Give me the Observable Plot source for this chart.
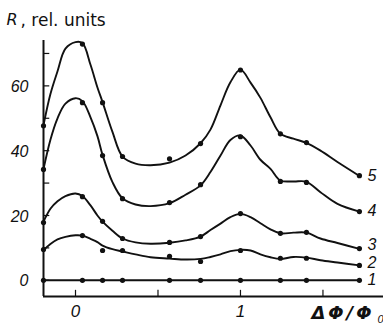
<!DOCTYPE html>
<html><head><meta charset="utf-8">
<script src="https://cdn.jsdelivr.net/npm/d3@7"></script>
<script src="https://cdn.jsdelivr.net/npm/@observablehq/plot@0.6"></script>
<style>body{margin:0;background:#fff} svg{display:block}</style>
</head><body><div id="chart"></div>
<script>
// Measured points: ΔΦ/Φ0 positions and R values (rel. units) for curves 1–5
const xVals = [-0.194, 0.042, 0.164, 0.285, 0.570, 0.758, 1.0, 1.242, 1.40, 1.721];
const curveNames = ["1", "2", "3", "4", "5"];
const s1 = [0, 0, 0, 0, 0, 0, 0, 0, 0, 0];
const s2 = [9.5, 13.8, 9.2, 9.2, 7.4, 5.8, 9.2, 6.8, 6.8, 4.6];
const s3 = [17.8, 25.8, 18.2, 12.9, 11.7, 13.5, 20.6, 14.5, 14.8, 9.8];
const s4 = [34.2, 54.8, 38.5, 25.2, 24.0, 29.5, 44.3, 30.5, 30.2, 21.2];
const s5 = [47.7, 72.9, 54.8, 38.2, 37.5, 42.2, 64.9, 45.2, 42.5, 32.3];

// Hand-drawn fitted curves at these ΔΦ/Φ0 positions
const fitX = [-0.194, -0.152, -0.109, -0.061, 0, 0.042, 0.091, 0.133, 0.164, 0.224, 0.285, 0.364, 0.455,
  0.570, 0.667, 0.758, 0.818, 0.879, 0.939, 1.0, 1.061, 1.121, 1.182, 1.242, 1.321, 1.40, 1.485, 1.588, 1.721];
const fit2 = [9.3, 11.2, 12.6, 13.4, 13.9, 13.8, 12.8, 11.8, 10.7, 9.6, 8.9, 8.0, 7.1,
  6.7, 6.4, 6.6, 7.2, 8.0, 9.0, 9.4, 9.2, 8.0, 7.1, 6.6, 7.2, 7.0, 6.2, 5.5, 4.6];
const fit3 = [18.1, 22.1, 24.4, 26.0, 26.8, 26.0, 23.1, 20.0, 18.1, 15.3, 12.9, 11.7, 11.3,
  11.6, 12.3, 13.5, 15.5, 17.5, 19.5, 20.5, 19.5, 17.6, 15.7, 14.5, 14.7, 14.7, 12.9, 11.5, 9.7];
const fit4 = [34.3, 43.4, 50.0, 54.5, 56.2, 55.3, 50.3, 44.5, 38.7, 30.3, 25.3, 23.4, 22.9,
  23.8, 26.4, 29.3, 33.4, 38.5, 43.3, 44.7, 41.6, 37.2, 34.4, 30.8, 30.5, 30.4, 27.2, 23.6, 21.2];
const fit5 = [47.9, 57.5, 64.5, 71.5, 73.5, 73.2, 66.5, 59.5, 55.0, 45.8, 38.2, 36.0, 35.5,
  36.3, 38.5, 42.3, 46.5, 54.0, 61.1, 65.0, 61.0, 56.3, 50.3, 45.2, 43.7, 42.4, 40.0, 36.5, 32.2];

// Curve number labels (y in R units, beside the last point)
const labelY = [0, 5.4, 11, 21.4, 32.3];

const yTicks = [0, 10, 20, 30, 40, 50, 60, 70];
const yTickLabels = [0, 20, 40, 60];
const xTicks = [0, 0.5, 1, 1.5];
const xTickLabels = [0, 1];
const xDomain = [-0.194, 1.867];
const yDomain = [-5, 74];

const series = [s1, s2, s3, s4, s5];
const dots = [];
series.forEach((s, i) => s.forEach((v, j) => dots.push({x: xVals[j], y: v, k: curveNames[i]})));
const lines = [];
s1.forEach((v, j) => lines.push({x: xVals[j], y: v, k: "1"}));
[fit2, fit3, fit4, fit5].forEach((f, i) => f.forEach((v, j) => lines.push({x: fitX[j], y: v, k: curveNames[i + 1]})));
const labels = curveNames.map((k, i) => ({x: xVals[xVals.length - 1], y: labelY[i], k}));

const ink = "#111";
const numFont = "'Liberation Sans', Arial, sans-serif";
const txtFont = "'DejaVu Sans', sans-serif";

const chart = Plot.plot({
  width: 383, height: 325,
  marginLeft: 43, marginRight: 0, marginTop: 40, marginBottom: 29,
  x: {domain: xDomain, axis: null},
  y: {domain: yDomain, axis: null},
  marks: [
    Plot.ruleX([xDomain[0]], {stroke: ink, strokeWidth: 2}),
    Plot.ruleY([yDomain[0]], {stroke: ink, strokeWidth: 2}),
    Plot.ruleY(yTicks, {y: d => d, x1: xDomain[0], x2: xDomain[0] + 0.038, stroke: ink, strokeWidth: 1.2}),
    Plot.ruleX(xTicks, {x: d => d, y1: yDomain[0], y2: yDomain[0] + 1.9, stroke: ink, strokeWidth: 1.2}),
    Plot.text(yTickLabels, {x: xDomain[0], y: d => d, text: d => String(d), dx: -15, dy: 1, textAnchor: "end",
      fontStyle: "italic", fontSize: 16, fontFamily: numFont, fill: ink}),
    Plot.text(xTickLabels, {x: d => d, y: yDomain[0], text: d => String(d), dy: 15.5,
      fontStyle: "italic", fontSize: 17, fontFamily: numFont, fill: ink}),
    Plot.line(lines, {x: "x", y: "y", z: "k", curve: "catmull-rom", stroke: ink, strokeWidth: 1.9}),
    Plot.dot(dots, {x: "x", y: "y", r: 2.6, fill: ink, stroke: "none"}),
    Plot.text(labels, {x: "x", y: "y", text: "k", dx: 8, textAnchor: "start",
      fontStyle: "italic", fontSize: 16, fontFamily: numFont, fill: ink}),
    Plot.text(["R"], {frameAnchor: "top-left", dx: -37, dy: -27, text: d => d,
      fontStyle: "italic", fontSize: 16, fontFamily: txtFont, fill: ink}),
    Plot.text([", rel. units"], {frameAnchor: "top-left", dx: -23, dy: -27, text: d => d,
      fontSize: 17, fontFamily: txtFont, fill: ink}),
    Plot.text(["ΔΦ/Φ"], {frameAnchor: "bottom-right", lineAnchor: "middle", dx: -9, dy: 17, text: d => d, textAnchor: "end",
      fontStyle: "italic", fontWeight: "bold", fontSize: 18, fontFamily: txtFont, fill: ink}),
    Plot.text(["0"], {frameAnchor: "bottom-right", lineAnchor: "middle", dx: 0, dy: 23, text: d => d, textAnchor: "end",
      fontStyle: "italic", fontSize: 11, fontFamily: numFont, fill: ink})
  ]
});
chart.querySelectorAll("text").forEach(t => {
  if (t.textContent === "ΔΦ/Φ") t.style.letterSpacing = "3px";
});
document.getElementById("chart").append(chart);
</script>
</body></html>
